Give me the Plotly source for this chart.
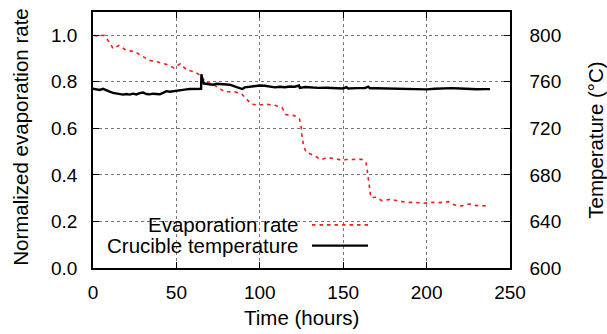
import plotly.graph_objects as go

# Evaporation rate (normalized)
evap_time = [0.5, 2.5, 6.5, 9.9, 12.0, 15.5, 20.0, 25.0, 29.5, 34.0, 39.0, 44.0, 48.4, 52.4, 56.0,
             61.0, 65.0, 67.4, 71.4, 75.3, 79.0, 84.3, 89.3, 91.7, 95.0, 99.3, 103.3, 108.3, 113.3,
             115.7, 120.7, 123.8, 124.8, 125.3, 126.2, 127.7, 132.2, 136.8, 140.2, 145.2, 149.2,
             151.8, 156.2, 161.2, 163.8, 164.6, 165.2, 165.8, 166.6, 169.8, 173.2, 178.1, 183.1,
             188.1, 193.1, 197.7, 203.1, 208.1, 213.1, 216.7, 221.1, 225.6, 230.0, 236.0]
evap_rate = [1.0, 0.997, 1.0, 0.97, 0.943, 0.956, 0.935, 0.93, 0.91, 0.892, 0.885, 0.875, 0.86, 0.878,
             0.852, 0.842, 0.825, 0.797, 0.792, 0.773, 0.757, 0.758, 0.747, 0.728, 0.704, 0.700, 0.704,
             0.700, 0.69, 0.659, 0.655, 0.64, 0.605, 0.569, 0.527, 0.498, 0.484, 0.466, 0.474, 0.47,
             0.463, 0.466, 0.467, 0.467, 0.451, 0.413, 0.37, 0.335, 0.302, 0.304, 0.289, 0.295, 0.288,
             0.282, 0.282, 0.278, 0.282, 0.281, 0.285, 0.271, 0.267, 0.275, 0.268, 0.267]

# Crucible temperature (deg C)
temp_time = [0, 2, 4, 6, 8, 10, 12, 14, 16, 18, 20, 22, 24, 26, 28, 30, 32, 34, 36, 38, 40, 42, 44, 46,
             48, 50, 52, 54, 56, 58, 60, 62, 64, 64.8, 65, 65.5, 66.5, 68, 70, 72, 74, 76, 78, 80, 82,
             84, 86, 88, 89.5, 91, 94, 97, 100, 103, 106, 109, 112, 115, 118, 121, 123.5, 124, 127,
             130, 135, 140, 145, 150, 152, 153, 158, 163, 165, 166, 170, 175, 180, 185, 190, 195, 200,
             205, 210, 215, 220, 225, 230, 235, 238]
temp_val = [754, 753.5, 753, 754, 752.5, 751.5, 750.5, 750, 749.5, 749, 749.5, 749, 749.8, 749.2, 750.3,
            750.8, 749.5, 749.2, 749.8, 749.3, 749.3, 750.5, 752, 751.5, 752, 752.3, 752.8, 753.5,
            753.5, 753.8, 754, 754, 754, 754, 766.5, 762, 758.5, 758.2, 758, 757.5, 758.3, 758, 757.8,
            758, 757.5, 756.5, 755.5, 755, 753.8, 755.2, 755.8, 756.3, 756.8, 756.6, 755.6, 755.2,
            755.8, 755.3, 756, 755.8, 756.8, 754.8, 755.5, 755.1, 754.8, 754.9, 754.6, 754.3, 755.5,
            754.2, 754.6, 754.6, 755.8, 754.5, 754.5, 754.3, 754.6, 754, 753.9, 753.6, 753.5, 754,
            754.3, 754.6, 754.2, 753.8, 753.6, 753.7, 753.7]

x_ticks = [0, 50, 100, 150, 200, 250]
y_ticks = [0.0, 0.2, 0.4, 0.6, 0.8, 1.0]
y2_ticks = [600, 640, 680, 720, 760, 800]

FONT = "Liberation Sans"
FS = 19
FS_T = 20.5
W, H = 607, 334
L, R, T, B = 93, 97, 10, 65.5
PW, PH = W - L - R, H - T - B


def px(x):
    return (x - L) / PW


def py(y):
    return (H - B - y) / PH


fig = go.Figure()
fig.add_trace(go.Scatter(x=temp_time, y=temp_val, mode="lines", yaxis="y2",
                         line=dict(color="black", width=2.4), showlegend=False))
fig.add_trace(go.Scatter(x=evap_time, y=evap_rate, mode="lines",
                         line=dict(color="#ff1a1a", width=1.6, dash="3.5px,4px"), showlegend=False))

axis_common = dict(showline=True, linecolor="black", linewidth=1.5, ticks="inside", ticklen=6,
                   tickcolor="black", tickfont=dict(family=FONT, size=FS, color="black"),
                   zeroline=False)

fig.update_layout(
    width=W, height=H, margin=dict(l=L, r=R, t=T, b=B),
    paper_bgcolor="white", plot_bgcolor="white", showlegend=False,
    xaxis=dict(range=[0, 250], tickvals=x_ticks, showgrid=True, gridcolor="#777",
               griddash="dot", gridwidth=1, mirror="ticks", ticklabelstandoff=6, **axis_common),
    yaxis=dict(range=[0, 1.1], tickvals=y_ticks, tickformat=".1f", showgrid=True, gridcolor="#777",
               griddash="dot", gridwidth=1, mirror=True, ticklabelstandoff=10, **axis_common),
    yaxis2=dict(range=[600, 820], tickvals=y2_ticks, overlaying="y", side="right", showgrid=False,
                ticklabelstandoff=14, **axis_common),
)

# white legend box covering grid
fig.add_shape(type="rect", xref="paper", yref="paper", x0=0, x1=px(380), y0=py(257), y1=py(212),
              fillcolor="white", line=dict(width=0), layer="between")
# legend samples
fig.add_shape(type="line", xref="paper", yref="paper", x0=px(312), x1=px(368), y0=py(225), y1=py(225),
              line=dict(color="#ff1a1a", width=1.6, dash="3.5px,4px"))
fig.add_shape(type="line", xref="paper", yref="paper", x0=px(312), x1=px(368), y0=py(246), y1=py(246),
              line=dict(color="black", width=2.2))

annots = [
    dict(text="Evaporation rate", x=px(300), y=py(225), xanchor="right", yanchor="middle"),
    dict(text="Crucible temperature", x=px(300), y=py(246), xanchor="right", yanchor="middle"),
    dict(text="Time (hours)", x=px(301), y=py(318), xanchor="center", yanchor="middle"),
    dict(text="Normalized evaporation rate", x=px(21), y=py(136), xanchor="center", yanchor="middle",
         textangle=-90),
    dict(text="Temperature (°C)", x=px(596), y=py(140), xanchor="center", yanchor="middle",
         textangle=-90),
]
for a in annots:
    fig.add_annotation(xref="paper", yref="paper", showarrow=False,
                       font=dict(family=FONT, size=FS_T, color="black"), **a)

fig.write_html("out.html")
